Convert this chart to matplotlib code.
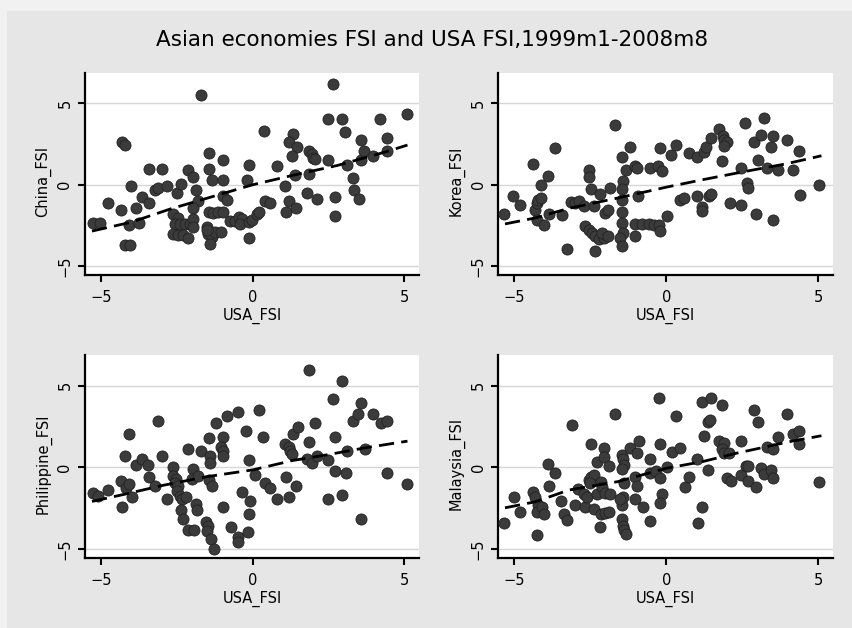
import matplotlib
matplotlib.use("Agg")
import matplotlib.pyplot as plt
from matplotlib.patches import Rectangle

# values (USA_FSI on x for every panel)
usa_china = [-5.27,-5.05,-4.78,-4.35,-4.30,-4.20,-4.21,-4.04,-4.01,-4.07,-3.76,-3.85,
             -3.64,-3.43,-3.43,-3.22,-3.11,-2.99,-2.84,-2.51,-2.36,-2.14,-1.98,-1.87,
             -1.70,-1.79,-1.96,-2.62,-2.48,-2.56,-2.40,-2.23,-2.07,-1.96,-1.98,-2.62,
             -2.45,-2.29,-2.12,-1.43,-1.43,-1.35,-1.43,-1.30,-1.13,-0.99,-1.52,-1.46,
             -1.35,-1.24,-1.41,-1.52,-1.05,-0.99,-0.99,-0.99,-0.86,-0.75,-0.58,-0.47,
             -0.36,-0.42,-0.20,-0.14,-0.14,-0.03,0.13,0.22,-0.14,0.37,0.41,0.57,
             0.79,1.07,1.08,1.21,1.34,1.21,1.47,1.29,1.40,1.43,1.78,1.84,
             1.95,2.00,2.05,1.84,2.13,2.49,2.64,2.93,3.05,2.49,2.71,2.71,
             3.12,3.30,3.34,3.51,3.56,3.57,3.68,3.98,4.20,4.42,4.42,5.08]
china_fsi = [-2.36,-2.36,-1.15,-1.54,2.61,2.44,-3.70,-3.70,-0.08,-2.50,-2.36,-1.40,
             -0.76,0.99,-1.15,-0.35,-0.18,0.99,-0.08,-0.49,0.06,0.88,0.47,-0.35,
             5.54,-0.97,-1.42,-1.83,-2.03,-2.40,-2.40,-2.40,-2.44,-2.09,-2.57,-3.02,
             -3.06,-3.12,-3.26,1.95,0.99,0.31,-1.68,-1.75,-1.68,-1.68,-2.61,-3.02,
             -3.22,-2.92,-3.63,-2.81,-2.92,1.54,0.31,-0.72,-0.92,-2.20,-2.20,-1.99,
             -2.09,-2.40,0.31,1.23,-2.30,-2.16,-1.79,-1.68,-3.29,3.29,-0.97,-1.13,
             1.13,-0.08,-1.68,-1.01,3.14,2.61,2.32,1.77,0.57,-1.42,-0.49,2.07,
             1.87,1.66,1.60,0.68,-0.88,4.07,6.22,4.07,3.24,1.50,-0.76,-1.95,
             1.23,0.43,-0.35,-0.88,1.50,2.73,2.07,1.75,4.07,2.87,2.07,4.33]

usa_korea = [-5.32,-5.04,-4.82,-4.38,-4.33,-4.25,-4.20,-4.11,-4.25,-4.03,-4.11,-3.89,
             -3.84,-3.67,-3.43,-3.26,-3.12,-2.99,-2.88,-2.71,-2.53,-2.53,-2.46,-2.38,
             -2.19,-2.00,-1.91,-1.84,-1.69,-2.68,-2.55,-2.44,-2.33,-2.22,-2.05,-2.11,
             -1.91,-2.33,-1.47,-1.43,-1.45,-1.47,-1.45,-1.47,-1.43,-1.51,-1.47,-1.32,
             -1.18,-1.04,-0.96,-0.93,-1.03,-1.03,-0.79,-0.57,-0.41,-0.24,-0.19,-0.54,
             -0.26,-0.15,-0.19,0.03,0.16,0.33,0.44,0.58,0.75,1.02,1.02,1.16,
             1.16,1.24,1.32,1.41,1.47,1.46,1.74,1.85,1.91,1.98,1.91,1.82,
             2.10,2.45,2.45,2.59,2.65,2.67,2.89,2.95,3.03,3.11,3.22,3.31,
             3.44,3.52,3.52,3.66,3.96,4.18,4.37,4.40,5.03]
korea_fsi = [-1.78,-0.72,-1.23,1.29,-1.53,-1.12,-0.92,-0.82,-2.19,-2.45,-0.04,0.51,
             -1.78,2.23,-1.88,-3.95,-1.08,-1.12,-1.02,-1.33,0.92,0.47,-0.27,-1.29,
             -0.57,-1.74,-1.53,-0.20,3.68,-2.56,-2.76,-2.97,-3.17,-3.33,-3.27,-2.97,
             -3.13,-4.09,1.70,0.20,-0.27,-0.92,-1.70,-2.35,-2.97,-3.27,-3.78,0.92,
             2.35,1.17,1.02,-0.67,-3.13,-2.39,-2.39,-2.39,-2.45,-2.45,-2.86,1.02,
             1.17,0.82,2.23,-1.90,1.82,2.45,-0.96,-0.82,1.98,1.70,-0.72,-1.37,
             -1.64,2.04,2.31,-0.72,-0.57,2.86,3.42,2.97,2.76,2.60,2.39,1.43,
             -1.12,1.02,-1.23,3.82,0.10,-0.20,2.60,-1.78,1.53,3.07,4.09,1.02,
             2.35,3.01,-2.19,0.92,2.76,0.92,2.09,-0.61,-0.04]

usa_phil = [-5.27,-5.09,-4.78,-4.35,-4.30,-4.21,-4.18,-4.07,-3.99,-4.07,-3.85,-3.66,
            -3.44,-3.43,-3.22,-3.14,-2.99,-2.84,-2.64,-2.62,-2.53,-2.56,-2.45,-2.51,
            -2.40,-2.34,-2.20,-2.37,-2.29,-2.14,-1.93,-2.14,-1.98,-2.01,-1.82,-1.87,
            -1.85,-1.71,-1.43,-1.41,-1.41,-1.43,-1.35,-1.21,-0.99,-1.05,-0.99,-0.97,
            -1.54,-1.46,-1.52,-1.38,-1.27,-0.99,-0.86,-0.71,-0.49,-0.49,-0.49,-0.36,
            -0.22,-0.14,-0.09,-0.14,-0.16,0.08,0.22,0.35,0.41,0.57,0.79,1.07,
            1.21,1.23,1.29,1.08,1.21,1.34,1.48,1.43,1.84,1.84,1.78,1.95,
            2.11,2.05,2.49,2.49,2.64,2.71,2.71,2.93,2.93,3.07,3.12,3.30,
            3.48,3.57,3.57,3.70,3.98,4.22,4.44,4.42,5.08]
phil_fsi = [-1.60,-1.74,-1.39,-0.86,-2.45,0.72,-1.27,-1.02,-1.80,2.04,0.16,0.51,
            0.16,-0.61,-1.12,2.86,0.72,-1.94,0.04,-0.51,-0.72,-0.98,-1.12,-1.43,
            -1.74,-1.94,-1.84,-2.62,-3.17,-3.84,-3.84,1.12,-0.10,-0.72,-0.51,-2.25,
            -2.62,1.02,1.80,0.72,0.25,-0.78,-1.12,2.70,1.88,1.23,1.02,0.72,
            -3.37,-3.58,-3.89,-4.40,-5.01,-2.45,3.11,-3.64,3.37,-4.29,-4.60,-1.53,
            2.19,0.45,-2.09,-2.86,-3.95,-0.47,3.52,1.88,-0.98,-1.27,-1.94,1.43,
            1.23,1.02,0.82,-0.61,-1.80,2.04,2.45,-1.12,1.53,5.93,0.51,0.25,
            0.72,2.70,0.45,-1.94,4.19,1.88,-0.20,5.26,-1.68,-0.37,1.02,2.86,
            3.23,3.93,-3.17,1.12,3.27,2.70,2.86,-0.37,-1.02]

usa_malay = [-5.32,-5.02,-4.82,-4.38,-4.33,-4.20,-4.25,-4.09,-4.03,-4.25,-3.89,-3.84,
             -3.67,-3.45,-3.37,-3.26,-3.10,-2.99,-2.90,-2.68,-2.71,-2.60,-2.55,-2.46,
             -2.38,-2.49,-2.46,-2.38,-2.27,-2.29,-2.19,-2.16,-2.11,-2.00,-1.84,-2.05,
             -2.05,-2.16,-2.00,-1.89,-1.89,-1.69,-1.45,-1.43,-1.40,-1.45,-1.40,-1.43,
             -1.47,-1.51,-1.47,-1.43,-1.40,-1.32,-1.18,-1.03,-0.96,-1.04,-0.96,-0.88,
             -0.77,-0.54,-0.54,-0.52,-0.35,-0.19,-0.13,-0.19,-0.24,-0.19,0.01,0.18,
             0.44,0.33,0.62,0.75,1.02,1.03,1.19,1.46,1.82,1.19,1.24,1.37,
             1.43,1.38,1.74,1.90,1.82,1.90,2.07,2.01,2.12,2.45,2.45,2.67,
             2.62,2.70,2.89,2.95,3.03,3.11,3.22,3.44,3.52,3.31,3.52,3.66,
             3.96,4.15,4.37,4.37,5.01]
malay_fsi = [-3.40,-1.80,-2.73,-1.50,-1.80,-2.32,-2.73,-2.42,-2.87,-4.16,0.20,-1.15,
             -0.33,-2.05,-2.83,-3.24,2.60,-2.32,-1.35,-2.42,-1.64,-1.80,-0.78,-0.57,
             -0.47,-0.94,1.41,-2.58,0.35,-1.64,-3.65,-0.88,-1.23,-1.56,-1.64,1.17,
             0.66,-2.83,-2.79,-2.73,0.08,3.28,0.76,0.49,0.14,-0.12,-0.98,-1.80,
             -2.32,-1.97,-3.14,-3.61,-3.85,-4.06,1.17,-0.57,-1.15,-1.91,0.90,1.58,
             -2.42,-3.28,0.49,-0.33,-0.20,-0.68,-1.64,-2.17,4.24,1.41,0.00,0.96,
             1.17,3.16,-1.23,-0.57,0.49,-3.40,3.98,4.24,3.83,-2.42,1.93,2.75,
             2.91,-0.16,1.58,1.48,1.11,0.90,0.86,-0.68,-0.82,1.58,-0.47,-0.82,
             0.08,0.08,3.52,-1.23,2.75,-0.06,-0.41,-0.16,-0.68,1.27,1.11,1.84,
             3.28,2.05,2.19,1.41,-0.88]

# fitted (dashed) lines, read at a few points along each
china_fit_x = [-5.3, -4.0, -2.7, -1.2, 0.0, 1.3, 2.8, 4.4, 5.1]
china_fit_y = [-2.85, -2.30, -1.48, -0.66, 0.0, 0.57, 1.19, 2.03, 2.44]
korea_fit_x = [-5.3, -4.3, -3.2, -1.6, 0.0, 1.2, 2.6, 3.9, 5.1]
korea_fit_y = [-2.41, -2.04, -1.45, -0.82, -0.15, 0.31, 0.82, 1.27, 1.78]
phil_fit_x = [-5.3, -4.2, -3.0, -1.5, 0.0, 1.3, 2.5, 3.7, 5.1]
phil_fit_y = [-2.09, -1.64, -1.12, -0.57, -0.16, 0.41, 0.78, 1.19, 1.60]
malay_fit_x = [-5.3, -4.3, -3.2, -1.6, 0.0, 1.2, 2.3, 3.2, 4.0, 5.1]
malay_fit_y = [-2.48, -2.11, -1.39, -0.88, -0.06, 0.35, 0.86, 1.22, 1.55, 1.93]

panels = [
    ("China_FSI", usa_china, china_fsi, china_fit_x, china_fit_y),
    ("Korea_FSI", usa_korea, korea_fsi, korea_fit_x, korea_fit_y),
    ("Philippine_FSI", usa_phil, phil_fsi, phil_fit_x, phil_fit_y),
    ("Malaysia_FSI", usa_malay, malay_fsi, malay_fit_x, malay_fit_y),
]
ticks = [-5, 0, 5]

W, H = 852, 628
fig = plt.figure(figsize=(W / 100, H / 100), dpi=100, facecolor="#f1f1f1")
# scanned gray page area, kept behind the panels
page = Rectangle((7 / W, 0), 1, 1 - 11 / H, transform=fig.transFigure,
                 facecolor="#e6e6e6", edgecolor="none", zorder=-10)
fig.add_artist(page)

# axes boxes in pixels: left, top, right, bottom
boxes = [(85, 73, 419, 275), (498, 73, 833, 275),
         (85, 355, 419, 558), (498, 355, 833, 558)]

for (name, xs, ys, fx, fy), (l, t, r, b) in zip(panels, boxes):
    ax = fig.add_axes([l / W, 1 - b / H, (r - l) / W, (b - t) / H])
    ax.set_zorder(1)
    ax.set_facecolor("white")
    for yv in ticks:
        ax.axhline(yv, color="#d6d6d6", lw=1.0, zorder=1)
    ax.scatter(xs, ys, s=64, color="#3b3b3b", edgecolors="#222222",
               linewidths=0.6, zorder=3)
    ax.plot(fx, fy, color="black", lw=2.0, dashes=(5.5, 2.6), zorder=4)
    ax.set_xlim(-5.53, 5.48)
    ax.set_ylim(-5.55, 6.87)
    ax.set_xticks(ticks)
    ax.set_yticks(ticks)
    ax.spines["top"].set_visible(False)
    ax.spines["right"].set_visible(False)
    ax.spines["left"].set_linewidth(1.6)
    ax.spines["bottom"].set_linewidth(1.6)
    ax.tick_params(axis="both", direction="out", length=5, width=1.5,
                   labelsize=10.5, color="black")
    ax.tick_params(axis="x", pad=6)
    ax.tick_params(axis="y", pad=4)
    for lab in ax.get_yticklabels():
        lab.set_rotation(90)
        lab.set_va("center")
    ax.set_xlabel("USA_FSI", fontsize=10.5)
    ax.set_ylabel(name, fontsize=10.5)
    ax.xaxis.set_label_coords(0.5, -0.16)
    ax.yaxis.set_label_coords(-0.1, 0.465)

fig.text(0.507, 1 - 40 / H, "Asian economies FSI and USA FSI,1999m1-2008m8",
         ha="center", va="center", fontsize=15.5)

fig.savefig("out.png", dpi=100, facecolor=fig.get_facecolor())
